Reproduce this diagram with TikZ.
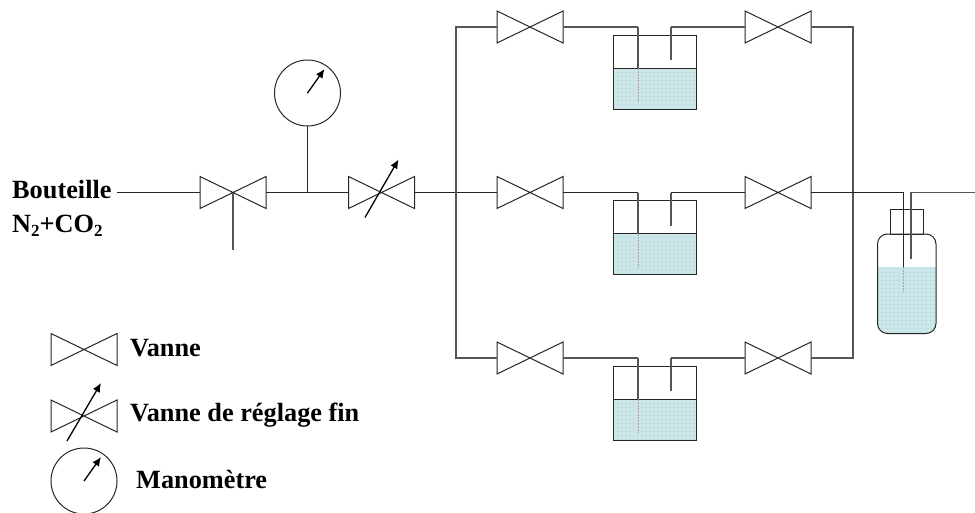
\documentclass[tikz,border=0pt]{standalone}
\usepackage{fontspec}
\setmainfont{Liberation Serif}
\usetikzlibrary{arrows.meta,calc}
\definecolor{liquid}{HTML}{CFE9EB}
\definecolor{liquidgrid}{HTML}{C2E1E4}
\definecolor{pipegrey}{HTML}{555555}
\tikzset{
  x=1pt,y=-1pt,
  pipe/.style={draw=black!85,line width=1pt,line join=miter},
  greypipe/.style={draw=pipegrey,line width=1.2pt},
  valvebox/.style={rectangle,minimum width=66pt,minimum height=32pt,inner sep=0pt,outer sep=0pt},
  dial/.style={circle,draw=black!85,line width=1pt,minimum size=66pt,inner sep=0pt,outer sep=0pt},
  needle/.style={draw=black,line width=1.3pt,-{Latex[length=9pt,width=8pt]}},
  label/.style={font=\fontsize{26.3pt}{28pt}\selectfont\bfseries,inner sep=0pt,anchor=base west},
  tank/.style={rectangle,draw=black!85,line width=1pt,minimum width=83pt,minimum height=74pt,inner sep=0pt,outer sep=0pt},
  liquidbox/.style={rectangle,fill=liquid,minimum width=83pt,minimum height=41pt,inner sep=0pt,outer sep=0pt},
  submerged/.style={draw=black!35,line width=0.9pt,dash pattern=on 2pt off 1pt},
}
\newcommand{\subs}[1]{\raisebox{-4.5pt}{\fontsize{17pt}{18pt}\selectfont #1}}
\newcommand{\valvesym}[3]{%
  \node[valvebox] (#1) at (#2,#3) {};
  \draw[pipe] (#1.north west) -- (#1.south east) -- (#1.north east) -- (#1.south west) -- cycle;
}
\newcommand{\washer}[2]{%
  \node[tank] (#1) at (654.5,#2+45) {};
  \node[liquidbox] (#1liq) at (654.5,#2+61.5) {};
  \begin{scope}
    \clip (#1liq.north west) rectangle (#1liq.south east);
    \foreach \k in {0,...,21} {\draw[liquidgrid,line width=0.4pt] ($(#1liq.north west)+(4*\k,0)$) -- ($(#1liq.south west)+(4*\k,0)$);}
    \foreach \k in {0,...,10} {\draw[liquidgrid,line width=0.4pt] ($(#1liq.north west)+(0,4*\k)$) -- ($(#1liq.north east)+(0,4*\k)$);}
  \end{scope}
  \draw[pipe] (#1liq.north west) rectangle (#1liq.south east);
  \coordinate (#1in) at (638,#2);
  \coordinate (#1out) at (671,#2);
  \coordinate (#1inend) at (638,#2+75);
  \coordinate (#1inlevel) at (638,#2+41);
  \coordinate (#1outend) at (671,#2+33);
  \draw[greypipe] (#1inlevel) -- (#1in);
  \draw[submerged] (#1inlevel) -- (#1inend);
  \draw[greypipe] (#1out) -- (#1outend);
}
\begin{document}
\begin{tikzpicture}
\useasboundingbox (0,0) rectangle (975,512);
% main line
\node[label] (bout) at (12,198) {Bouteille};
\node[label] (gas) at (12,232) {N\subs{2}+CO\subs{2}};
\coordinate (start) at (117,192.5);
\valvesym{vmain}{233}{192.5}
\coordinate (vent) at (233,250);
\draw[pipe] (start) -- (vmain.west);
\draw[greypipe] (vmain.center) -- (vent);
\node[dial] (gauge) at (307.5,93) {};
\draw[needle] (gauge.center) -- ++(17,-24);
\coordinate (tee) at (307.5,192.5);
\draw[pipe] (gauge.south) -- (tee);
\valvesym{vfine}{381.5}{192.5}
\draw[pipe] (vmain.east) -- (vfine.west);
\draw[needle] ($(vfine.center)+(-16.5,25)$) -- ($(vfine.center)+(17,-33)$);
% manifolds
\valvesym{va}{530}{27}
\valvesym{vb}{530}{192.5}
\valvesym{vc}{530}{358}
\valvesym{wa}{778}{27}
\valvesym{wb}{778}{192.5}
\valvesym{wc}{778}{358}
\draw[pipe] (vfine.east) -- (vb.west);
\coordinate (lefttop) at (456,27);
\coordinate (leftbot) at (456,358);
\coordinate (righttop) at (853,27);
\coordinate (rightbot) at (853,358);
\draw[greypipe] (va.west) -- (lefttop) -- (leftbot) -- (vc.west);
\draw[greypipe] (wa.east) -- (righttop) -- (rightbot) -- (wc.east);
% washers
\washer{ta}{27}
\washer{tb}{192.5}
\washer{tc}{358}
\draw[greypipe] (va.east) -- (tain);
\draw[greypipe] (taout) -- (wa.west);
\draw[pipe] (vb.east) -- (tbin);
\draw[pipe] (tbout) -- (wb.west);
\draw[greypipe] (vc.east) -- (tcin);
\draw[greypipe] (tcout) -- (wc.west);
% bottle
\node[draw=black!85,line width=1pt,rectangle,minimum width=33pt,minimum height=25pt,inner sep=0pt,outer sep=0pt] (neck) at (907,221.5) {};
\begin{scope}
  \clip[rounded corners=10pt] (877.5,234) rectangle (936,333.5);
  \fill[liquid] (877.5,267) rectangle (936,333.5);
  \foreach \k in {0,...,14} {\draw[liquidgrid,line width=0.4pt] (878+4*\k,267) -- (878+4*\k,334);}
  \foreach \k in {0,...,16} {\draw[liquidgrid,line width=0.4pt] (877,268+4*\k) -- (936,268+4*\k);}
\end{scope}
\node[draw=black!85,line width=1pt,rectangle,rounded corners=10pt,minimum width=58.5pt,minimum height=99.5pt,inner sep=0pt,outer sep=0pt] (bottle) at (906.75,283.75) {};
\coordinate (bin) at (903,192.5);
\coordinate (bout2) at (911,192.5);
\coordinate (end) at (975,192.5);
\draw[pipe] (wb.east) -- (bin) -- (903,267);
\draw[submerged] (903,267) -- (903,292);
\draw[greypipe] (end) -- (bout2) -- (911,259);
% legend
\valvesym{lv}{84}{349.5}
\node[label] (lvt) at (130,356) {Vanne};
\valvesym{lf}{84}{416}
\draw[needle] ($(lf.center)+(-17,25)$) -- ($(lf.center)+(17,-33)$);
\node[label] (lft) at (130,421) {Vanne de réglage fin};
\node[dial] (lm) at (84,481) {};
\draw[needle] (lm.center) -- ++(17,-24);
\node[label] (lmt) at (136,488) {Manomètre};
\end{tikzpicture}
\end{document}
